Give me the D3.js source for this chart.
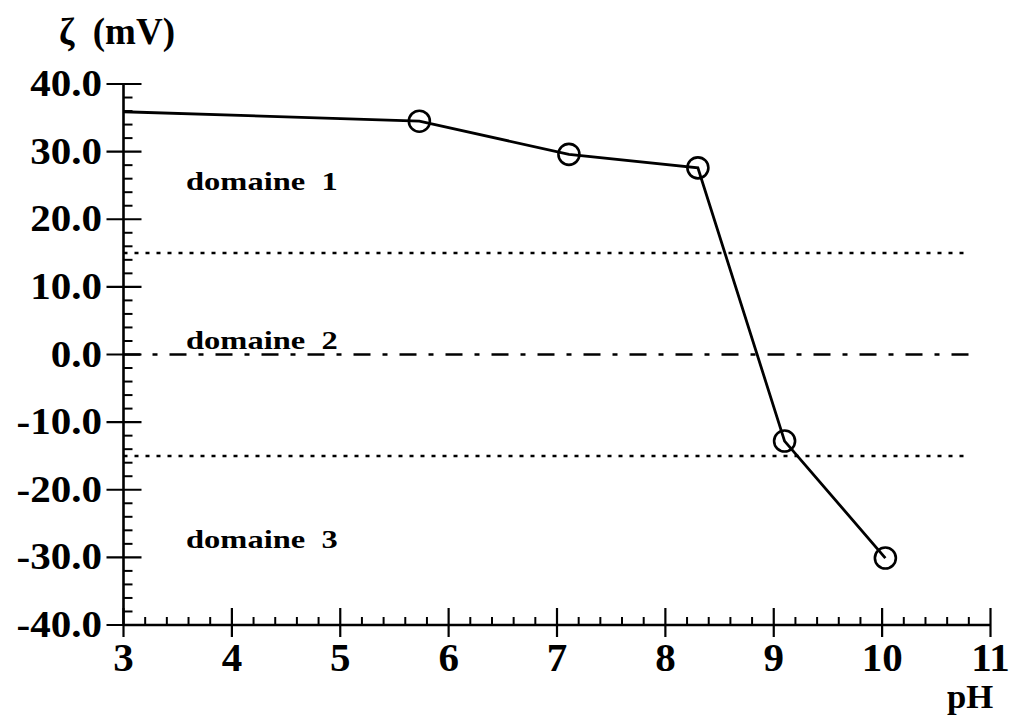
<!DOCTYPE html>
<html><head><meta charset="utf-8">
<script src="https://cdn.jsdelivr.net/npm/d3@7"></script>
<style>
body{margin:0;background:#fff;}
text{font-family:"Liberation Serif","Times New Roman",serif;font-weight:bold;fill:#000;white-space:pre;}
</style></head>
<body><svg id="c" width="1014" height="715"></svg>
<script>
// data
const phLine = [3.0, 5.73, 7.11, 8.30, 9.10, 10.03];
const zetaLine = [35.9, 34.5, 29.6, 27.6, -12.8, -30.1];
const phPoints = [5.73, 7.11, 8.30, 9.10, 10.03];
const zetaPoints = [34.5, 29.6, 27.6, -12.8, -30.1];
const xTicks = [3, 4, 5, 6, 7, 8, 9, 10, 11];
const yTicks = [40, 30, 20, 10, 0, -10, -20, -30, -40];
const yTickLabels = ["40.0", "30.0", "20.0", "10.0", "0.0", "-10.0", "-20.0", "-30.0", "-40.0"];
const domainLines = [15, -15];
const domainLabels = ["domaine  1", "domaine  2", "domaine  3"];
const domainLabelY = [25.5, 2.0, -27.5];

const svg = d3.select("#c");
const x = d3.scaleLinear().domain([3, 11]).range([123.5, 990.5]);
const y = d3.scaleLinear().domain([-40, 40]).range([625, 84]);
const lw = 2.6;

function addText(g, tx, ty, str, size, anchor, sx) {
  return g.append("text")
    .attr("transform", `translate(${tx},${ty}) scale(${sx},1)`)
    .attr("text-anchor", anchor)
    .style("font-size", size + "px")
    .text(str);
}

// reference lines
svg.selectAll("line.dom").data(domainLines).enter().append("line")
  .attr("x1", x(3)).attr("x2", x(10.8)).attr("y1", d => y(d)).attr("y2", d => y(d))
  .attr("stroke", "#000").attr("stroke-width", 2.6).attr("stroke-dasharray", "4,7");
svg.append("line").attr("x1", x(3)).attr("x2", x(10.87)).attr("y1", y(0)).attr("y2", y(0))
  .attr("stroke", "#000").attr("stroke-width", 2.4).attr("stroke-dasharray", "17,12,5,12");

// y axis
svg.append("line").attr("x1", x(3)).attr("x2", x(3)).attr("y1", y(40)).attr("y2", y(-40))
  .attr("stroke", "#000").attr("stroke-width", lw);
const yMinor = d3.range(-40, 40.001, 2).filter(v => Math.abs(v % 10) > 0.01);
svg.selectAll("line.ymin").data(yMinor).enter().append("line")
  .attr("x1", x(3)).attr("x2", x(3) + 9).attr("y1", d => y(d)).attr("y2", d => y(d))
  .attr("stroke", "#000").attr("stroke-width", 2);
svg.selectAll("line.ymaj").data(yTicks).enter().append("line")
  .attr("x1", x(3) - 17).attr("x2", x(3) + 18).attr("y1", d => y(d)).attr("y2", d => y(d))
  .attr("stroke", "#000").attr("stroke-width", 2.2);
yTicks.forEach((d, i) => addText(svg, 102, y(d) + 12, yTickLabels[i], 38, "end", 1.08));

// x axis
svg.append("line").attr("x1", x(3)).attr("x2", x(11)).attr("y1", y(-40)).attr("y2", y(-40))
  .attr("stroke", "#000").attr("stroke-width", lw);
const xMinor = d3.range(3, 11.001, 0.2).filter(v => Math.abs(v - Math.round(v)) > 0.01);
svg.selectAll("line.xmin").data(xMinor).enter().append("line")
  .attr("x1", d => x(d)).attr("x2", d => x(d)).attr("y1", y(-40)).attr("y2", y(-40) - 8)
  .attr("stroke", "#000").attr("stroke-width", 2);
svg.selectAll("line.xmaj").data(xTicks).enter().append("line")
  .attr("x1", d => x(d)).attr("x2", d => x(d)).attr("y1", y(-40) - 17).attr("y2", y(-40) + 12)
  .attr("stroke", "#000").attr("stroke-width", 2.2);
xTicks.forEach(d => addText(svg, x(d), 671, String(d), 41, "middle", 1.0));

// axis titles
addText(svg, 59, 44, "ζ  (mV)", 37, "start", 1.0);
addText(svg, 970, 708, "pH", 33, "middle", 1.05);

// domain labels
domainLabels.forEach((d, i) => addText(svg, 186, y(domainLabelY[i]) + 8, d, 26, "start", 1.25));

// data line
const line = d3.line().x(d => x(d[0])).y(d => y(d[1]));
svg.append("path").datum(phLine.map((p, i) => [p, zetaLine[i]]))
  .attr("d", line).attr("fill", "none").attr("stroke", "#000").attr("stroke-width", 2.8);
svg.selectAll("circle.pt").data(phPoints.map((p, i) => [p, zetaPoints[i]])).enter().append("circle")
  .attr("cx", d => x(d[0])).attr("cy", d => y(d[1])).attr("r", 10.5)
  .attr("fill", "none").attr("stroke", "#000").attr("stroke-width", 2.6);
</script></body></html>
